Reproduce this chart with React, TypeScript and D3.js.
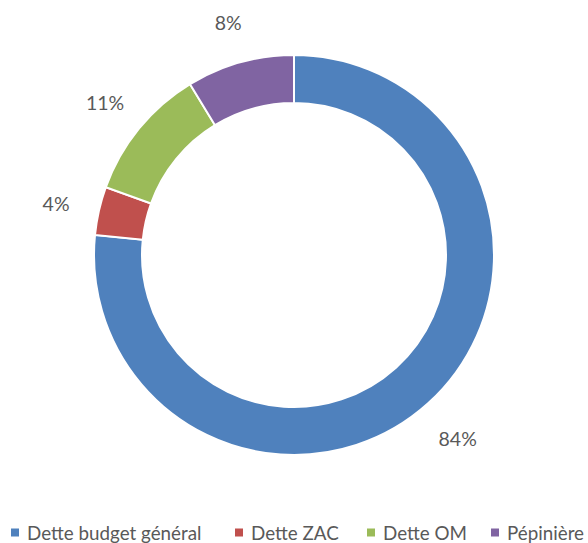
import React from 'react'
import * as d3 from 'd3'

// slice shares
const categories = ['Dette budget général', 'Dette ZAC', 'Dette OM', 'Pépinière']
const shares = [76.6, 3.9, 10.8, 8.7]
const labels = ['84%', '4%', '11%', '8%']
const colors = ['#4F81BD', '#C0504D', '#9BBB59', '#8064A2']

const width = 588
const height = 543
const cx = 294
const cy = 255
const outerRadius = 200
const innerRadius = 152
const labelRadius = 244
const font = 'Lato, "Liberation Sans", sans-serif'

const App = () => {
  const svgRef = React.useRef<SVGSVGElement>(null)

  React.useEffect(() => {
    const svg = d3.select(svgRef.current)
    svg.selectAll('*').remove()

    const pie = d3.pie<number>().sort(null).value((d) => d)
    const arcs = pie(shares)
    const arc = d3.arc<d3.PieArcDatum<number>>()
      .innerRadius(innerRadius)
      .outerRadius(outerRadius)

    const g = svg.append('g').attr('transform', `translate(${cx},${cy})`)

    g.selectAll('path')
      .data(arcs)
      .join('path')
      .attr('fill', (d, i) => colors[i])
      .attr('stroke', '#fff')
      .attr('stroke-width', 2)
      .attr('d', arc)

    g.selectAll('text')
      .data(arcs)
      .join('text')
      .attr('x', (d) => labelRadius * Math.sin((d.startAngle + d.endAngle) / 2))
      .attr('y', (d) => -labelRadius * Math.cos((d.startAngle + d.endAngle) / 2) + 3)
      .attr('dy', '0.35em')
      .attr('text-anchor', 'middle')
      .attr('font-family', font)
      .attr('font-size', 19.5)
      .attr('fill', '#595959')
      .text((d, i) => labels[i])

    // legend
    const legendX = [11, 235, 367, 491]
    const legend = svg.append('g')
      .selectAll('g')
      .data(categories)
      .join('g')
      .attr('transform', (d, i) => `translate(${legendX[i]},533)`)

    legend.append('rect')
      .attr('x', 0)
      .attr('y', -4.5)
      .attr('width', 8)
      .attr('height', 8)
      .attr('fill', (d, i) => colors[i])

    legend.append('text')
      .attr('x', 16)
      .attr('dy', '0.35em')
      .attr('font-family', font)
      .attr('font-size', 18.8)
      .attr('fill', '#595959')
      .text((d) => d)
  }, [])

  return (
    <svg
      ref={svgRef}
      width={width}
      height={height}
      style={{ position: 'absolute', left: 0, top: 0, background: '#fff' }}
    />
  )
}

export default App
